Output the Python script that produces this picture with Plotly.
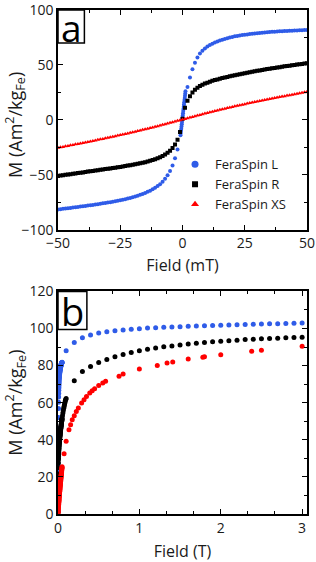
import plotly.graph_objects as go

# ---------------- Panel a data (field in mT, M in Am^2/kg_Fe) ----------------
field_mT = list(range(-50, 51))

L_neg_field = list(range(-50, -1))          # -50 ... -2 mT
L_neg = [-81.6, -81.3, -81.0, -80.7, -80.4, -80.1, -79.8, -79.5, -79.2, -78.9,
         -78.6, -78.3, -78.0, -77.7, -77.4, -77.1, -76.7, -76.4, -76.0, -75.7,
         -75.3, -74.9, -74.5, -74.1, -73.7, -73.2, -72.7, -72.2, -71.6, -71.0,
         -70.4, -69.7, -69.0, -68.2, -67.4, -66.5, -65.5, -64.4, -63.2, -61.8,
         -60.3, -58.5, -56.3, -53.6, -50.4, -46.5, -41.5, -35.0, -27.0]
L_core_field = [-0.8, -0.7, -0.6, -0.5, -0.4, -0.3, -0.2, -0.1, 0.0, 0.1, 0.2,
                0.3, 0.4, 0.5, 0.6, 0.7, 0.8, 0.9, 1.0, 1.1, 1.2]
L_core = [-14, -12, -10, -8, -6, -4, -2, 0, 2, 4, 6, 8, 10, 12, 14, 16, 18, 20,
          22, 24, 26]
L_pos_field = list(range(2, 51))            # 2 ... 50 mT
L_pos = [30.0, 38.5, 46.0, 52.0, 56.8, 60.3, 63.0, 65.0, 66.7, 68.1,
         69.3, 70.4, 71.3, 72.2, 73.0, 73.7, 74.4, 75.0, 75.5, 76.0,
         76.4, 76.8, 77.2, 77.5, 77.8, 78.1, 78.4, 78.6, 78.9, 79.1,
         79.3, 79.5, 79.7, 79.9, 80.1, 80.3, 80.4, 80.6, 80.7, 80.9,
         81.0, 81.1, 81.2, 81.3, 81.4, 81.5, 81.6, 81.7, 81.8]

R_M = [-51.0, -50.7, -50.4, -50.0, -49.7, -49.4, -49.1, -48.7, -48.4, -48.1,
       -47.8, -47.4, -47.1, -46.8, -46.5, -46.1, -45.8, -45.5, -45.2, -44.8,
       -44.5, -44.2, -43.8, -43.5, -43.1, -42.8, -42.4, -42.0, -41.6, -41.2,
       -40.8, -40.4, -40.0, -39.5, -39.0, -38.5, -37.9, -37.3, -36.6, -35.9,
       -35.0, -34.0, -32.9, -31.6, -30.0, -28.0, -25.5, -22.5, -18.0, -11.0,
       1.0,
       11.0, 17.5, 21.5, 25.0, 27.5, 29.3, 30.8, 32.0, 33.0, 33.9,
       34.7, 35.5, 36.2, 36.8, 37.4, 38.0, 38.6, 39.1, 39.6, 40.1,
       40.6, 41.1, 41.6, 42.0, 42.5, 42.9, 43.3, 43.8, 44.2, 44.6,
       45.0, 45.4, 45.8, 46.2, 46.5, 46.9, 47.3, 47.6, 48.0, 48.3,
       48.7, 49.0, 49.3, 49.7, 50.0, 50.3, 50.6, 50.9, 51.2, 51.5]

XS_M = [-25.4, -25.0, -24.6, -24.1, -23.7, -23.2, -22.8, -22.3, -21.9, -21.4,
        -21.0, -20.5, -20.1, -19.6, -19.2, -18.7, -18.2, -17.7, -17.3, -16.8,
        -16.3, -15.8, -15.3, -14.8, -14.3, -13.8, -13.3, -12.8, -12.3, -11.8,
        -11.3, -10.7, -10.2, -9.7, -9.1, -8.6, -8.0, -7.4, -6.9, -6.3,
        -5.7, -5.1, -4.5, -3.9, -3.3, -2.7, -2.1, -1.5, -0.9, -0.3,
        0.3,
        0.9, 1.5, 2.1, 2.7, 3.3, 3.9, 4.5, 5.1, 5.7, 6.3,
        6.9, 7.4, 8.0, 8.6, 9.1, 9.7, 10.2, 10.8, 11.3, 11.8,
        12.3, 12.8, 13.3, 13.8, 14.3, 14.8, 15.3, 15.8, 16.2, 16.7,
        17.2, 17.6, 18.1, 18.5, 19.0, 19.4, 19.9, 20.3, 20.8, 21.2,
        21.6, 22.1, 22.5, 22.9, 23.4, 23.8, 24.2, 24.6, 25.1, 25.5]

# extension of the FeraSpin R low-field sweep (mT) shown in panel b
R_ext_field = [55, 60, 65, 70, 75, 80, 85, 90, 95, 100]
R_ext = [53.0, 54.5, 55.8, 57.0, 58.0, 59.0, 60.0, 61.0, 61.7, 62.3]

# ---------------- Panel b data (field in T) ----------------
bL_field = [0.1, 0.2, 0.3, 0.4, 0.5, 0.6, 0.7, 0.8, 0.9, 1.0,
            1.1, 1.2, 1.3, 1.4, 1.5, 1.6, 1.7, 1.8, 1.9, 2.0,
            2.1, 2.2, 2.3, 2.4, 2.5, 2.6, 2.7, 2.8, 2.9, 3.0]
bL = [88.0, 92.5, 95.0, 96.5, 97.5, 98.2, 98.8, 99.2, 99.6, 99.9,
      100.2, 100.4, 100.6, 100.8, 101.0, 101.2, 101.3, 101.5, 101.6, 101.8,
      101.9, 102.0, 102.2, 102.3, 102.4, 102.5, 102.6, 102.7, 102.8, 102.9]
bR_field = [0.2, 0.3, 0.4, 0.5, 0.6, 0.7, 0.8, 0.9, 1.0,
            1.1, 1.2, 1.3, 1.4, 1.5, 1.6, 1.7, 1.8, 1.9, 2.0,
            2.1, 2.2, 2.3, 2.4, 2.5, 2.6, 2.7, 2.8, 2.9, 3.0]
bR = [71.8, 76.8, 79.5, 81.7, 83.3, 84.8, 86.0, 87.1, 88.0,
      88.8, 89.5, 90.1, 90.6, 91.1, 91.6, 92.0, 92.4, 92.8, 93.1,
      93.4, 93.7, 94.0, 94.2, 94.4, 94.6, 94.8, 95.0, 95.1, 95.3]
bXS_field = [0.075, 0.1, 0.135, 0.155, 0.175, 0.2, 0.225, 0.25, 0.29, 0.32,
             0.35, 0.39, 0.42, 0.45, 0.5, 0.55, 0.585, 0.75, 0.8, 1.0,
             1.22, 1.34, 1.41, 1.6, 1.78, 1.8, 2.0, 2.38, 2.5, 3.0]
bXS = [32.5, 39.2, 45.4, 48.1, 50.8, 53.0, 55.3, 57.1, 59.8, 61.6,
       63.4, 65.2, 66.5, 67.5, 69.2, 70.6, 71.5, 74.2, 75.5, 78.2,
       80.1, 81.4, 81.9, 83.5, 84.5, 84.7, 85.9, 87.7, 88.2, 90.4]

names = ["FeraSpin L", "FeraSpin R", "FeraSpin XS"]
colors = ["#2f5ce8", "#000000", "#ff0000"]
symbols = ["circle", "square", "triangle-up"]

FONT = "Open Sans"
TXT = "#1a1a1a"

fig = go.Figure()

# ---- panel a ----
L_x = L_neg_field + L_core_field + L_pos_field
L_y = L_neg + L_core + L_pos
series_a = [(L_x, L_y), (field_mT, R_M), (field_mT, XS_M)]
for (sx, sy), c, s, n in zip(series_a, colors, symbols, names):
    fig.add_trace(go.Scatter(x=sx, y=sy, mode="markers", name=n, showlegend=False,
                             marker=dict(color=c, size=4, symbol=s),
                             xaxis="x", yaxis="y"))

# legend entries (legend-only, larger symbols as in the reference legend)
for c, s, n, sz in zip(colors, symbols, names, [7, 6, 7]):
    fig.add_trace(go.Scatter(x=[None], y=[None], mode="markers", name=n,
                             marker=dict(color=c, size=sz, symbol=s),
                             xaxis="x", yaxis="y"))

# ---- panel b : low-field sweeps (mT -> T) + high-field points ----
def to_T(vals):
    return [v / 1000.0 for v in vals]

lowL_x = [f for f in L_core_field if f >= 0] + L_pos_field
lowL_y = [m for f, m in zip(L_core_field, L_core) if f >= 0] + L_pos
lowR_x = [f for f in field_mT if f >= 0] + R_ext_field
lowR_y = [m for f, m in zip(field_mT, R_M) if f >= 0] + R_ext
lowXS_x = [f for f in field_mT if f >= 0]
lowXS_y = [m for f, m in zip(field_mT, XS_M) if f >= 0]

for lx, ly, hx, hy, c, n in [(lowL_x, lowL_y, bL_field, bL, colors[0], names[0]),
                             (lowR_x, lowR_y, bR_field, bR, colors[1], names[1]),
                             (lowXS_x, lowXS_y, bXS_field, bXS, colors[2], names[2])]:
    fig.add_trace(go.Scatter(x=to_T(lx) + hx, y=ly + hy, mode="markers", name=n,
                             showlegend=False,
                             marker=dict(color=c, size=5, symbol="circle"),
                             xaxis="x2", yaxis="y2"))


def axis(**kw):
    base = dict(showline=True, linecolor="black", linewidth=1.5, mirror="ticks",
                ticks="inside", ticklen=5, tickwidth=1.3, tickcolor="black",
                showgrid=False, zeroline=False, automargin=False,
                ticklabeloverflow="allow",
                tickfont=dict(family=FONT, size=14, color=TXT))
    base.update(kw)
    return base


def minor(d):
    return dict(ticks="inside", ticklen=3, tickwidth=1.1, tickcolor="black", dtick=d)


xtitle_font = dict(family=FONT, size=16, color=TXT)
ytitle_font = dict(family=FONT, size=18, color=TXT)
ytitle_text = "M (Am<sup>2</sup>/kg<sub>Fe</sub>)"

fig.update_layout(
    template="none",
    width=316, height=562,
    margin=dict(l=58, r=9, t=10, b=48),
    paper_bgcolor="white", plot_bgcolor="white",
    font=dict(family=FONT, color=TXT, size=14),
    xaxis=axis(domain=[0, 1], anchor="y", range=[-50, 50], tick0=-50, dtick=25,
               minor=minor(12.5),
               title=dict(text="Field (mT)", standoff=9, font=xtitle_font)),
    yaxis=axis(domain=[0.564, 1], anchor="x", range=[-100, 100], tick0=-100, dtick=50,
               minor=minor(25)),
    xaxis2=axis(domain=[0, 1], anchor="y2", range=[0, 3.06], tick0=0, dtick=1,
                minor=minor(1 / 3),
                title=dict(text="Field (T)", standoff=11, font=xtitle_font)),
    yaxis2=axis(domain=[0, 0.4417], anchor="x2", range=[0, 120], tick0=0, dtick=20,
                minor=minor(10)),
    legend=dict(x=0.47, y=0.7234, xanchor="left", yanchor="top",
                bgcolor="rgba(0,0,0,0)", borderwidth=0,
                font=dict(family=FONT, size=13, color=TXT),
                tracegroupgap=0, itemwidth=30),
    showlegend=True,
)

# y-axis titles (placed as rotated annotations beside each panel)
for yr, yc in [("y domain", 0.477), ("y2 domain", 0.5)]:
    fig.add_annotation(xref="paper", yref=yr, x=(15 - 58) / 249, y=yc,
                       text=ytitle_text, textangle=-90, showarrow=False,
                       xanchor="center", yanchor="middle", font=ytitle_font)

# panel labels with boxes
fig.add_shape(type="rect", xref="x domain", yref="y domain", x0=0, x1=0.106, y0=0.85, y1=1,
              line=dict(color="black", width=1.5), fillcolor="white", layer="above")
fig.add_annotation(xref="x domain", yref="y domain", x=0.053, y=0.922, text="a",
                   showarrow=False, font=dict(family=FONT, size=37, color="black"),
                   xanchor="center", yanchor="middle")
fig.add_shape(type="rect", xref="x2 domain", yref="y2 domain", x0=0, x1=0.116, y0=0.829, y1=1,
              line=dict(color="black", width=1.5), fillcolor="white", layer="above")
fig.add_annotation(xref="x2 domain", yref="y2 domain", x=0.058, y=0.912, text="b",
                   showarrow=False, font=dict(family=FONT, size=38, color="black"),
                   xanchor="center", yanchor="middle")

fig.write_html("out.html",
               config={"displayModeBar": False},
               post_script="document.body.style.margin='0px';"
                           "document.body.style.overflow='hidden';")
